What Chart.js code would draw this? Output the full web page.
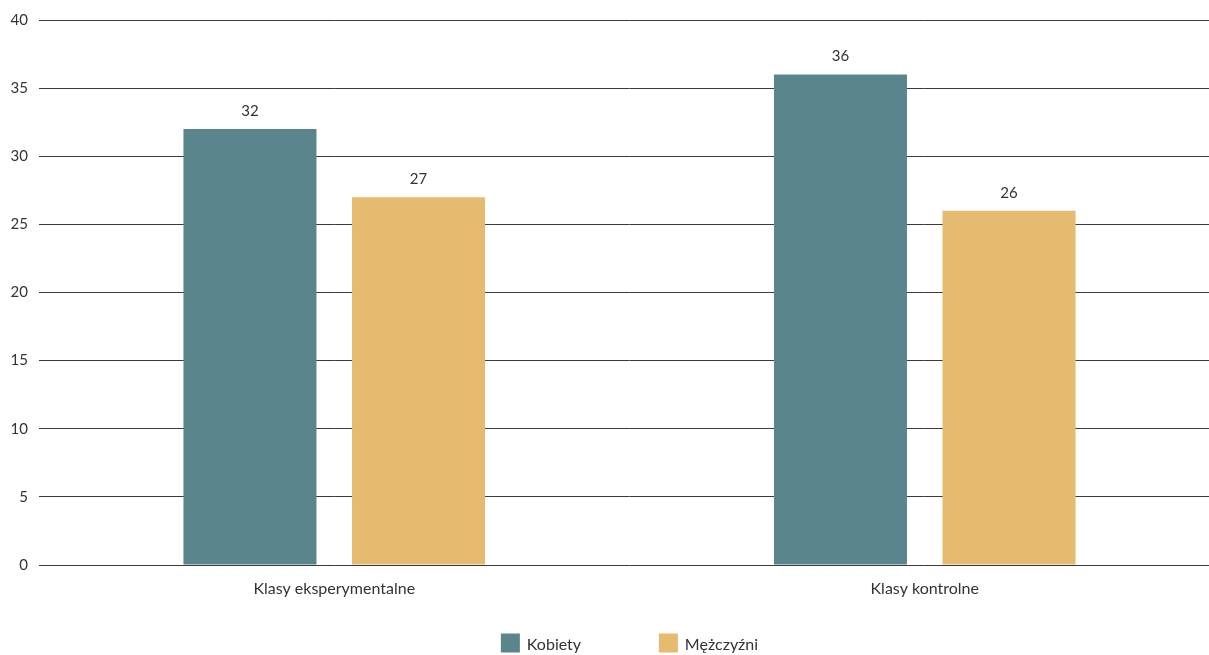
<!DOCTYPE html>
<html lang="pl">
<head>
<meta charset="utf-8">
<title>Klasy eksperymentalne i kontrolne</title>
<script src="https://cdn.jsdelivr.net/npm/chart.js@4.4.1/dist/chart.umd.min.js"></script>
<style>
    html, body { margin: 0; padding: 0; background: #fff; overflow: hidden; }
    #wrap { position: relative; width: 1220px; height: 655px; }
</style>
</head>
<body>
<div id="wrap"><canvas id="genderChart"></canvas></div>
<script>
// Chart data
const categories = ['Klasy eksperymentalne', 'Klasy kontrolne'];
const seriesNames = ['Kobiety', 'Mężczyźni'];
const kobiety = [32, 36];
const mezczyzni = [27, 26];
const yTicks = [0, 5, 10, 15, 20, 25, 30, 35, 40];

const COLORS = ['#5b858d', '#e4bb6f'];
const TEXT = '#333333';
const FONT = "'Lato', 'Open Sans', sans-serif";

// Value above each bar
const valueLabels = {
    id: 'valueLabels',
    afterDatasetsDraw(chart) {
        const ctx = chart.ctx;
        ctx.save();
        ctx.font = `15px ${FONT}`;
        ctx.fillStyle = TEXT;
        ctx.textAlign = 'center';
        ctx.textBaseline = 'middle';
        chart.data.datasets.forEach((ds, i) => {
            chart.getDatasetMeta(i).data.forEach((bar, j) => {
                ctx.fillText(ds.data[j], bar.x, bar.y - 18);
            });
        });
        ctx.restore();
    }
};

// Legend under the axis, fixed step between items
const bottomLegend = {
    id: 'bottomLegend',
    afterDraw(chart) {
        const ctx = chart.ctx;
        const area = chart.chartArea;
        const box = 19, gap = 7, step = 158;
        const cy = 643;
        ctx.save();
        ctx.font = `16px ${FONT}`;
        ctx.textBaseline = 'middle';
        const sets = chart.data.datasets;
        const lastW = box + gap + ctx.measureText(sets[sets.length - 1].label).width;
        const total = step * (sets.length - 1) + lastW;
        let x = (area.left + area.right) / 2 - total / 2;
        sets.forEach(ds => {
            ctx.fillStyle = ds.backgroundColor;
            ctx.fillRect(x, cy - box / 2, box, box);
            ctx.fillStyle = TEXT;
            ctx.fillText(ds.label, x + box + gap, cy + 2);
            x += step;
        });
        ctx.restore();
    }
};

const ctx = document.getElementById('genderChart').getContext('2d');
new Chart(ctx, {
    type: 'bar',
    data: {
        labels: categories,
        datasets: [
            { label: seriesNames[0], data: kobiety, backgroundColor: COLORS[0] },
            { label: seriesNames[1], data: mezczyzni, backgroundColor: COLORS[1] }
        ]
    },
    options: {
        responsive: true,
        maintainAspectRatio: false,
        animation: false,
        barPercentage: 0.789,
        categoryPercentage: 0.571,
        layout: { padding: { top: 20, right: 0, bottom: 0, left: 0 } },
        plugins: {
            legend: { display: false },
            tooltip: { enabled: false }
        },
        scales: {
            x: {
                grid: { display: false },
                border: { display: false },
                ticks: { color: TEXT, font: { family: FONT, size: 16 }, padding: 6, maxRotation: 0 },
                afterFit(scale) { scale.height = 90; }
            },
            y: {
                min: 0,
                max: 40,
                afterBuildTicks(scale) { scale.ticks = yTicks.map(v => ({ value: v })); },
                grid: { color: '#3a3a3a', lineWidth: 1, drawTicks: false },
                border: { display: false },
                ticks: { color: TEXT, font: { family: FONT, size: 15 }, padding: 11 },
                afterFit(scale) { scale.width = 39; }
            }
        }
    },
    plugins: [valueLabels, bottomLegend]
});
</script>
</body>
</html>
